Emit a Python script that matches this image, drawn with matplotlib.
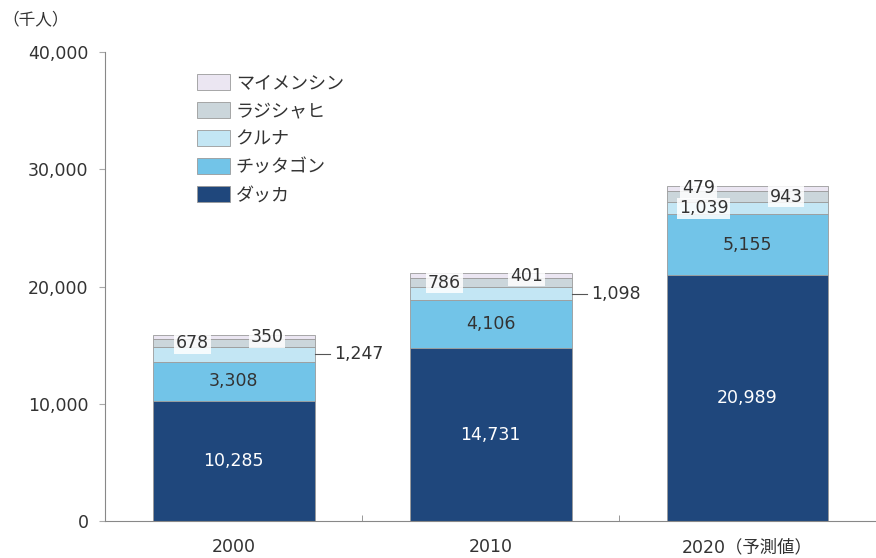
# -*- coding:utf-8 -*-
import matplotlib
matplotlib.use('Agg')
import matplotlib.pyplot as plt
import numpy as np

plt.rcParams['font.family'] = ['DejaVu Sans', 'Noto Sans CJK JP']

years = ['2000', '2010', '2020（予測値）']
dhaka = [10285, 14731, 20989]
chittagong = [3308, 4106, 5155]
khulna = [1247, 1098, 1039]
rajshahi = [678, 786, 943]
mymensingh = [350, 401, 479]

names = ['ダッカ', 'チッタゴン', 'クルナ', 'ラジシャヒ', 'マイメンシン']
colors = ['#1f477c', '#72c4e8', '#c3e6f4', '#cbd6db', '#ebe6f2']

series = [dhaka, chittagong, khulna, rajshahi, mymensingh]

fig = plt.figure(figsize=(8.76, 5.58), dpi=100)
ax = fig.add_axes([0.12, 0.066, 0.88, 0.841])

x = np.arange(len(years))
w = 0.63
bottom = np.zeros(len(years))
bars = []
for vals, name, c in zip(series, names, colors):
    ax.bar(x, vals, w, bottom=bottom, color=c, edgecolor='#9a9a9a',
           linewidth=0.6, label=name)
    bars.append((vals, bottom.copy()))
    bottom += np.array(vals)

txt = '#333333'
fs = 12.5
fw = 'normal'
# big segments: centered
for i in range(len(years)):
    for k in (0, 1):
        vals, bot = bars[k]
        ax.text(x[i], bot[i] + vals[i] / 2, f'{vals[i]:,}', ha='center',
                va='center', fontsize=fs, fontweight=fw,
                color='white' if k == 0 else txt)

# small segments: offsets per bar (khulna, rajshahi, mymensingh)
offs = [
    [None, -0.16, 0.13],
    [None, -0.18, 0.14],
    [-0.17, 0.15, -0.19],
]
box = dict(boxstyle='square,pad=0.1', fc='white', ec='none', alpha=0.85)
for i in range(len(years)):
    for j, k in enumerate((2, 3, 4)):
        vals, bot = bars[k]
        y = bot[i] + vals[i] / 2
        o = offs[i][j]
        if o is None:
            xr = x[i] + w / 2
            ax.plot([xr, xr + 0.06], [y, y], color='#555555', lw=0.8)
            ax.text(xr + 0.075, y, f'{vals[i]:,}', ha='left', va='center',
                    fontsize=fs, fontweight=fw, color=txt)
        else:
            ax.text(x[i] + o, y, f'{vals[i]:,}', ha='center', va='center',
                    fontsize=fs, fontweight=fw, color=txt, bbox=box)

ax.set_xlim(-0.5, 2.5)
ax.set_ylim(0, 40000)
ax.set_yticks([0, 10000, 20000, 30000, 40000])
ax.set_yticklabels(['0', '10,000', '20,000', '30,000', '40,000'])
ax.set_xticks(x)
ax.set_xticklabels(years)
ax.set_xticks([0.5, 1.5], minor=True)
ax.tick_params(axis='x', which='major', length=0, pad=12, labelsize=fs,
               colors=txt)
ax.tick_params(axis='x', which='minor', length=4, direction='in',
               color='#888888')
ax.tick_params(axis='y', length=4, color='#aaaaaa', pad=8, labelsize=fs,
               colors=txt)
ax.spines['top'].set_visible(False)
ax.spines['right'].set_visible(False)
ax.spines['left'].set_color('#888888')
ax.spines['bottom'].set_color('#888888')

h, l = ax.get_legend_handles_labels()
leg = ax.legend(h[::-1], l[::-1], loc='upper left',
                bbox_to_anchor=(0.119, 0.952), frameon=False,
                prop={'family': ['Noto Sans CJK JP'], 'size': 13},
                handlelength=1.85, handleheight=0.95, labelspacing=0.55,
                borderpad=0, borderaxespad=0, handletextpad=0.3)
for t in leg.get_texts():
    t.set_color(txt)

fig.text(0.003, 0.965, '（千人）', fontsize=12, color=txt, va='center',
         family=['Noto Sans CJK JP'])

fig.savefig('out.png', dpi=100)
